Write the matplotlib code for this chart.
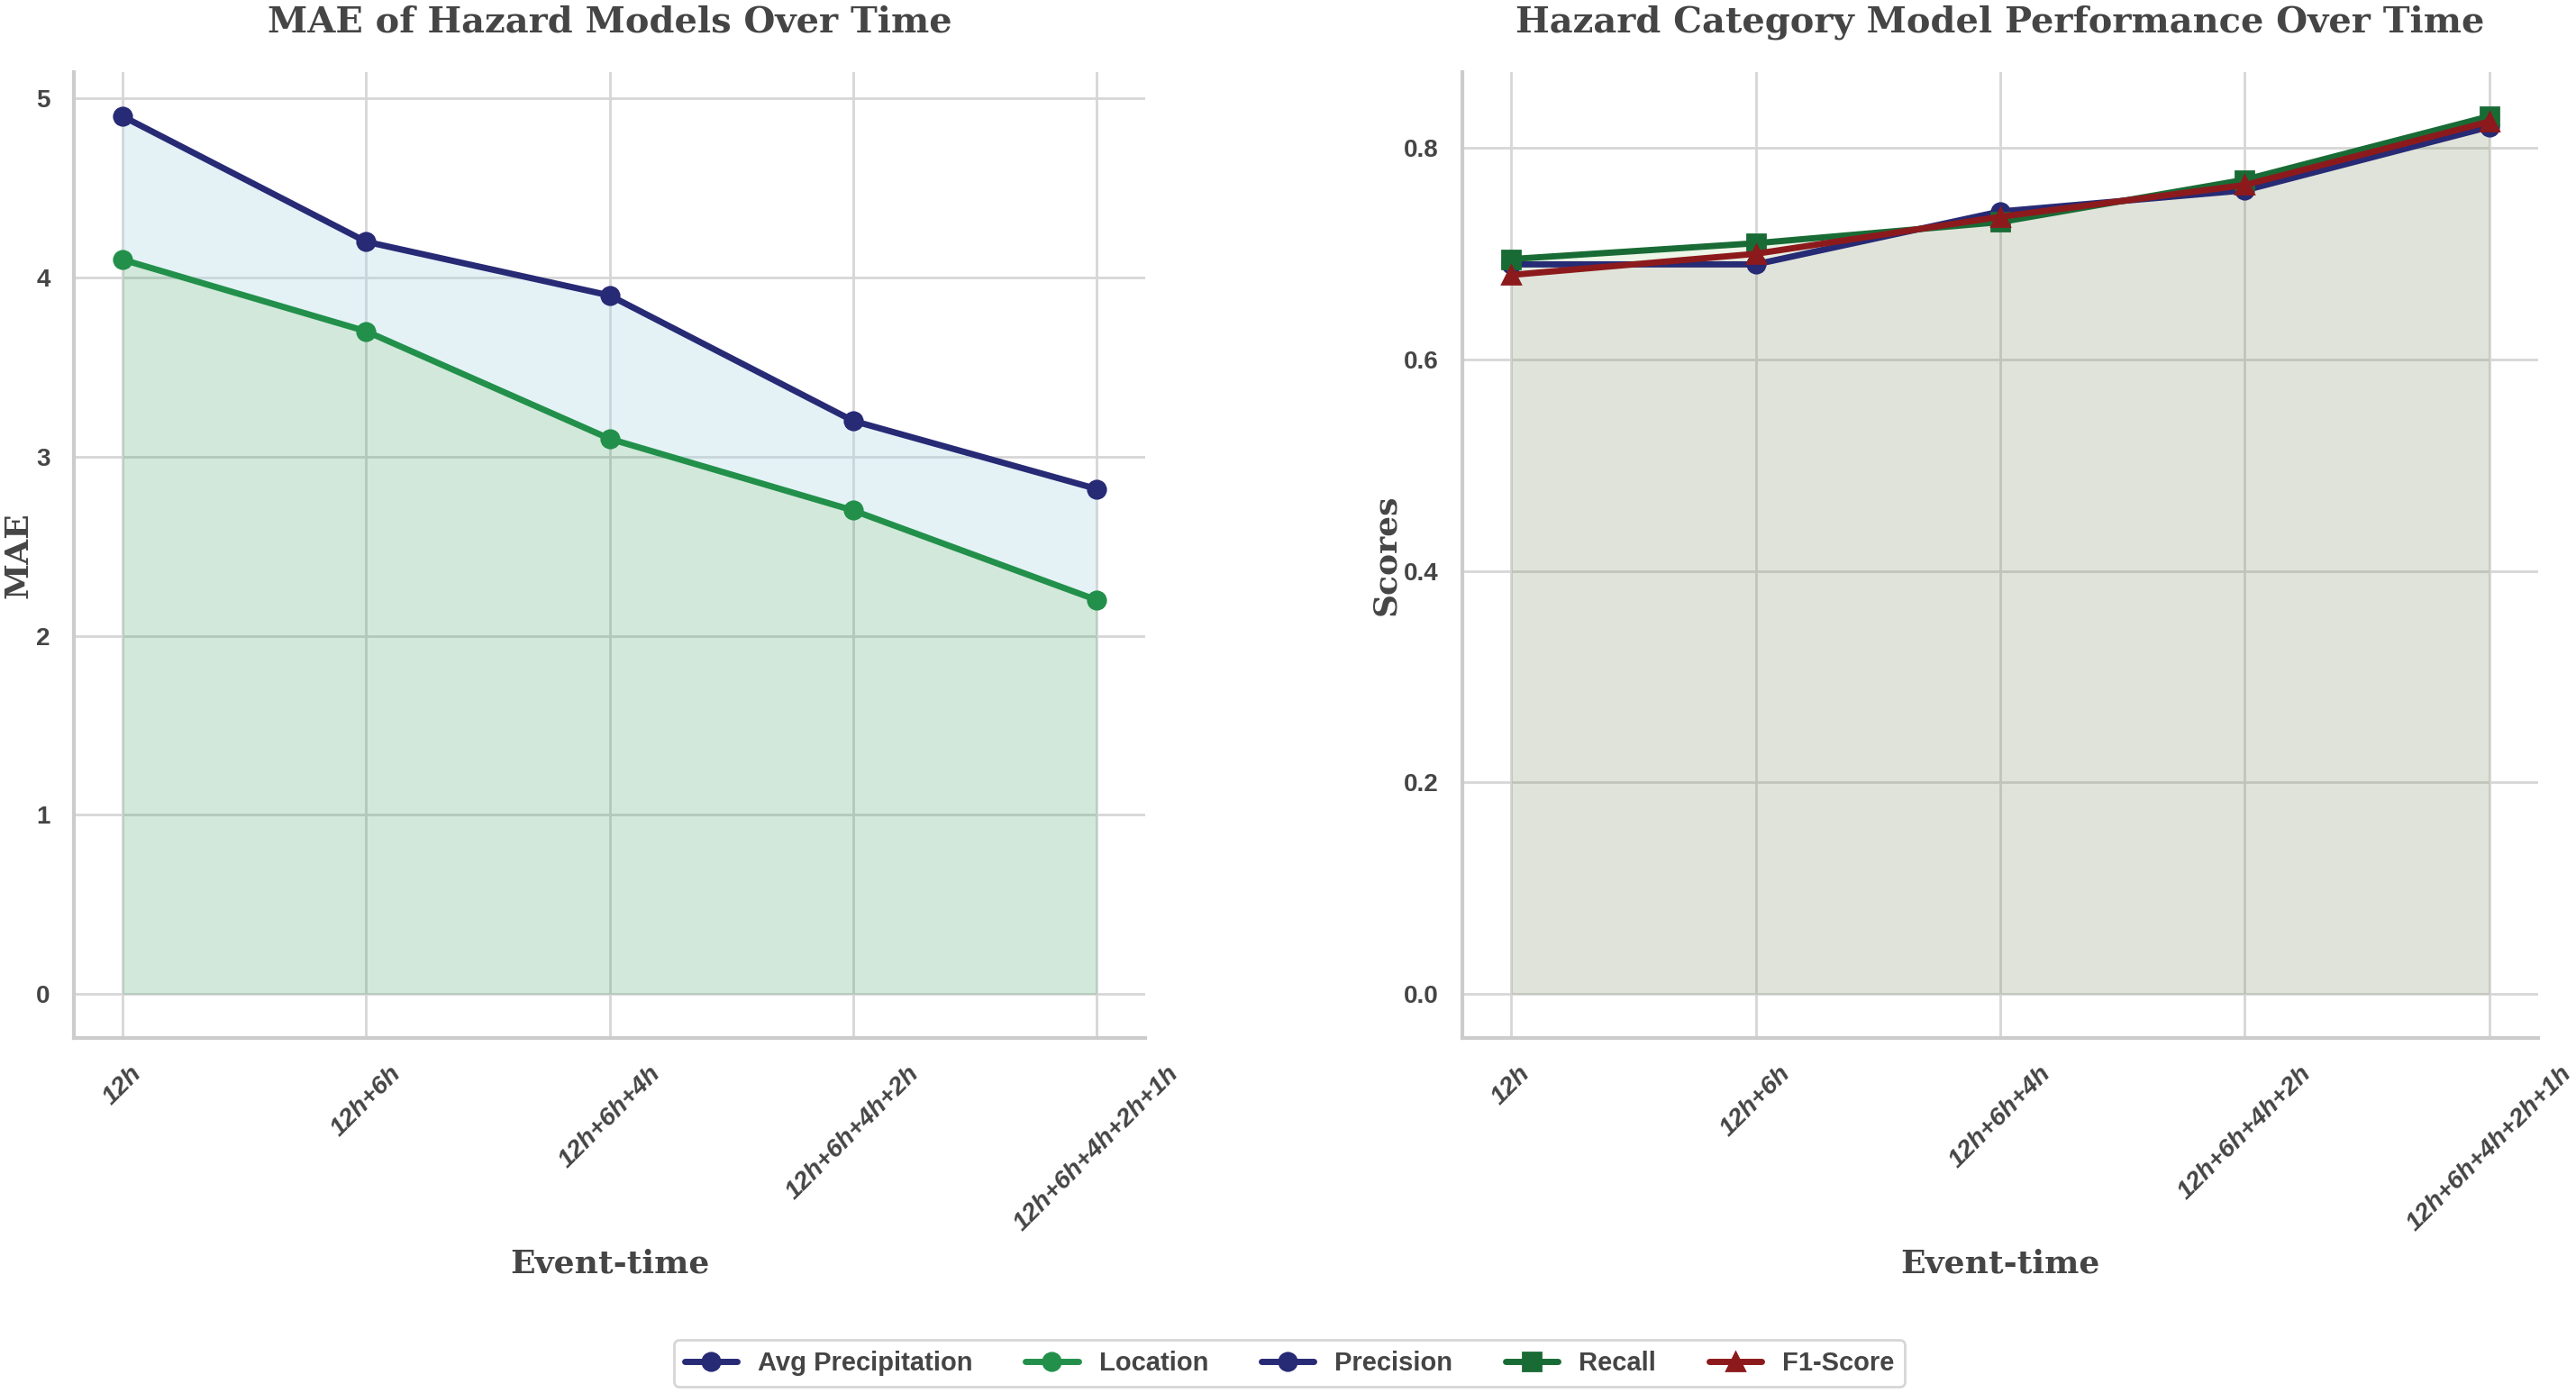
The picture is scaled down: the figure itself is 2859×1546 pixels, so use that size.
import matplotlib
matplotlib.use('Agg')
import matplotlib.pyplot as plt
import seaborn as sns

event_times = ['12h', '12h+6h', '12h+6h+4h', '12h+6h+4h+2h', '12h+6h+4h+2h+1h']

avg_precip = [4.9, 4.2, 3.9, 3.2, 2.82]
location = [4.1, 3.7, 3.1, 2.7, 2.2]

precision = [0.69, 0.69, 0.74, 0.76, 0.82]
recall = [0.695, 0.71, 0.73, 0.77, 0.83]
f1_score = [0.68, 0.70, 0.735, 0.765, 0.825]

sns.set_theme(style='whitegrid')
plt.rcParams['font.family'] = ['Liberation Sans', 'DejaVu Sans']

text_color = '#454545'
navy = '#272a74'
green = '#22904a'
dark_green = '#196b35'
dark_red = '#8c1a1c'

fig = plt.figure(figsize=(14.295, 7.73), dpi=200)
ax1 = fig.add_axes([0.0287, 0.2549, 0.4159, 0.6931])
ax2 = fig.add_axes([0.5677, 0.2549, 0.4176, 0.6931])

x = list(range(len(event_times)))

# left: MAE
ax1.fill_between(x, location, avg_precip, color='#add8e6', alpha=0.33, lw=0)
ax1.fill_between(x, 0, location, color=green, alpha=0.2, lw=0)
ax1.plot(x, avg_precip, marker='o', color=navy, lw=2.5, ms=7, label='Avg Precipitation')
ax1.plot(x, location, marker='o', color=green, lw=2.5, ms=7, label='Location')

# right: category scores
ax2.fill_between(x, 0, recall, color='#9ccf80', alpha=0.18, lw=0)
ax2.fill_between(x, 0, precision, color=navy, alpha=0.045, lw=0)
ax2.fill_between(x, 0, f1_score, color=dark_red, alpha=0.045, lw=0)
ax2.plot(x, precision, marker='o', color=navy, lw=2.5, ms=7, label='Precision')
ax2.plot(x, recall, marker='s', color=dark_green, lw=2.5, ms=7, label='Recall')
ax2.plot(x, f1_score, marker='^', color=dark_red, lw=2.5, ms=7, label='F1-Score')

titles = ['MAE of Hazard Models Over Time', 'Hazard Category Model Performance Over Time']
ylabels = ['MAE', 'Scores']
for ax, title, ylabel in zip([ax1, ax2], titles, ylabels):
    ax.set_title(title, fontsize=14.4, fontweight='bold', family='DejaVu Serif',
                 color=text_color, pad=16)
    ax.set_xlabel('Event-time', fontsize=13, fontweight='bold', family='DejaVu Serif',
                  color=text_color, labelpad=5)
    ax.set_ylabel(ylabel, fontsize=13, fontweight='bold', family='DejaVu Serif',
                  color=text_color, labelpad=1)
    ax.set_xticks(x)
    ax.set_xticklabels(event_times, rotation=45, fontsize=10.2, fontweight='bold',
                       fontstyle='italic', color=text_color)
    for lab in ax.get_yticklabels():
        lab.set_fontsize(10)
        lab.set_fontweight('bold')
        lab.set_color(text_color)
    ax.grid(True, color='#d6d6d6', lw=1.0)
    ax.set_axisbelow(True)
    for side in ['top', 'right']:
        ax.spines[side].set_visible(False)
    for side in ['left', 'bottom']:
        ax.spines[side].set_color('#cccccc')
        ax.spines[side].set_linewidth(1.5)

handles = ax1.get_legend_handles_labels()[0] + ax2.get_legend_handles_labels()[0]
labels = ax1.get_legend_handles_labels()[1] + ax2.get_legend_handles_labels()[1]
leg = fig.legend(handles, labels, loc='center', bbox_to_anchor=(0.5006, 0.0213), ncol=5,
                 frameon=True, prop={'weight': 'bold', 'size': 10.5})
for t in leg.get_texts():
    t.set_color(text_color)

fig.savefig('out.png', dpi=200)
